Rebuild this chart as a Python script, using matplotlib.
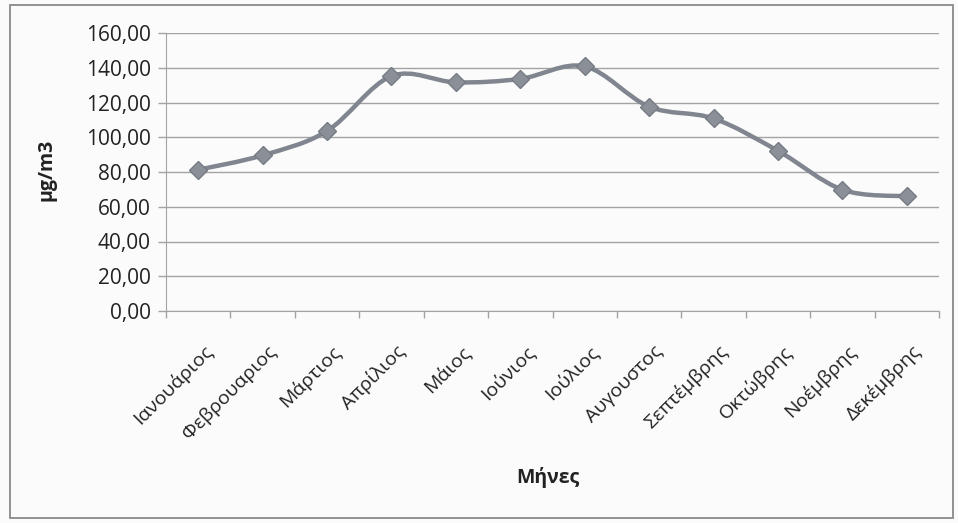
import matplotlib
matplotlib.use("Agg")
import matplotlib.pyplot as plt
from matplotlib.path import Path
from matplotlib.patches import PathPatch, Rectangle
from matplotlib.ticker import FixedLocator, FuncFormatter
import matplotlib.transforms as mtransforms
import numpy as np

# Monthly mean concentrations
months = ["Ιανουάριος", "Φεβρουαριος", "Μάρτιος", "Απρίλιος", "Μάιος", "Ιούνιος",
          "Ιούλιος", "Αυγουστος", "Σεπτέμβρης", "Οκτώβρης", "Νοέμβρης", "Δεκέμβρης"]
values = [81.3, 89.6, 103.6, 135.2, 131.6, 133.6, 140.8, 117.6, 110.8, 92.2, 69.8, 66.0]
y_ticks = [0, 20, 40, 60, 80, 100, 120, 140, 160]

plt.rcParams["font.family"] = ["Open Sans", "DejaVu Sans"]

W, H = 958, 523
fig = plt.figure(figsize=(W / 100, H / 100), dpi=100)
fig.patch.set_facecolor("#fbfbfb")

ax = fig.add_axes([166 / W, 1 - 311 / H, (939 - 166) / W, (311 - 33) / H])
ax.set_facecolor("#fbfbfb")

line_col = "#80858f"
grid_col = "#a3a3a3"
text_col = "#222222"

x = np.arange(len(values), dtype=float)
y = np.asarray(values, dtype=float)

# Smoothed line: cubic Bezier segments (Catmull-Rom style control points)
verts = [(x[0], y[0])]
codes = [Path.MOVETO]
n = len(x)
for i in range(n - 1):
    p0 = np.array([x[max(i - 1, 0)], y[max(i - 1, 0)]])
    p1 = np.array([x[i], y[i]])
    p2 = np.array([x[i + 1], y[i + 1]])
    p3 = np.array([x[min(i + 2, n - 1)], y[min(i + 2, n - 1)]])
    c1 = p1 + (p2 - p0) / 6.0
    c2 = p2 - (p3 - p1) / 6.0
    verts += [tuple(c1), tuple(c2), tuple(p2)]
    codes += [Path.CURVE4, Path.CURVE4, Path.CURVE4]
ax.add_patch(PathPatch(Path(verts, codes), facecolor="none", edgecolor=line_col,
                       lw=3.2, capstyle="round", joinstyle="round", zorder=3))
ax.plot(x, y, linestyle="none", marker="D", markersize=9, color="#8a8f98",
        markeredgecolor="#767b84", markeredgewidth=1.0, zorder=4)

ax.set_xlim(-0.5, len(values) - 0.5)
ax.set_ylim(0, 160)
ax.set_yticks(y_ticks)
ax.yaxis.set_major_formatter(FuncFormatter(lambda v, p: f"{v:.2f}".replace(".", ",")))
ax.grid(axis="y", color=grid_col, lw=1.0)
ax.set_axisbelow(True)

ax.set_xticks(x)
ax.set_xticklabels(months, rotation=45, ha="right", va="center", rotation_mode="anchor")
ax.xaxis.set_minor_locator(FixedLocator(np.arange(-0.5, len(values), 1.0)))
ax.tick_params(axis="x", which="major", length=0, pad=27, labelsize=14, labelcolor=text_col)
ax.tick_params(axis="x", which="minor", length=5, color=grid_col, width=1.0, direction="out")
ax.tick_params(axis="y", length=6, color=grid_col, width=1.0, pad=5, labelsize=15, labelcolor=text_col)
offset = mtransforms.ScaledTranslation(11 / 100, 0, fig.dpi_scale_trans)
for lbl in ax.get_xticklabels():
    lbl.set_transform(lbl.get_transform() + offset)

for side in ["top", "right"]:
    ax.spines[side].set_visible(False)
ax.spines["left"].set_color(grid_col)
ax.spines["bottom"].set_color(grid_col)

fig.text(47 / W, 1 - 170 / H, "μg/m3", rotation=90, ha="center", va="center",
         fontsize=14, fontweight="bold", color=text_col)
fig.text(548 / W, 1 - 478 / H, "Μήνες", ha="center", va="center",
         fontsize=14, fontweight="bold", color=text_col)

# Chart area border
fig.add_artist(Rectangle((10 / W, 1 - 518 / H), (953 - 10) / W, (518 - 5) / H,
                         transform=fig.transFigure, fill=False, edgecolor="#8a8a8a", lw=1.3))

fig.savefig("out.png", dpi=100, facecolor=fig.get_facecolor())
